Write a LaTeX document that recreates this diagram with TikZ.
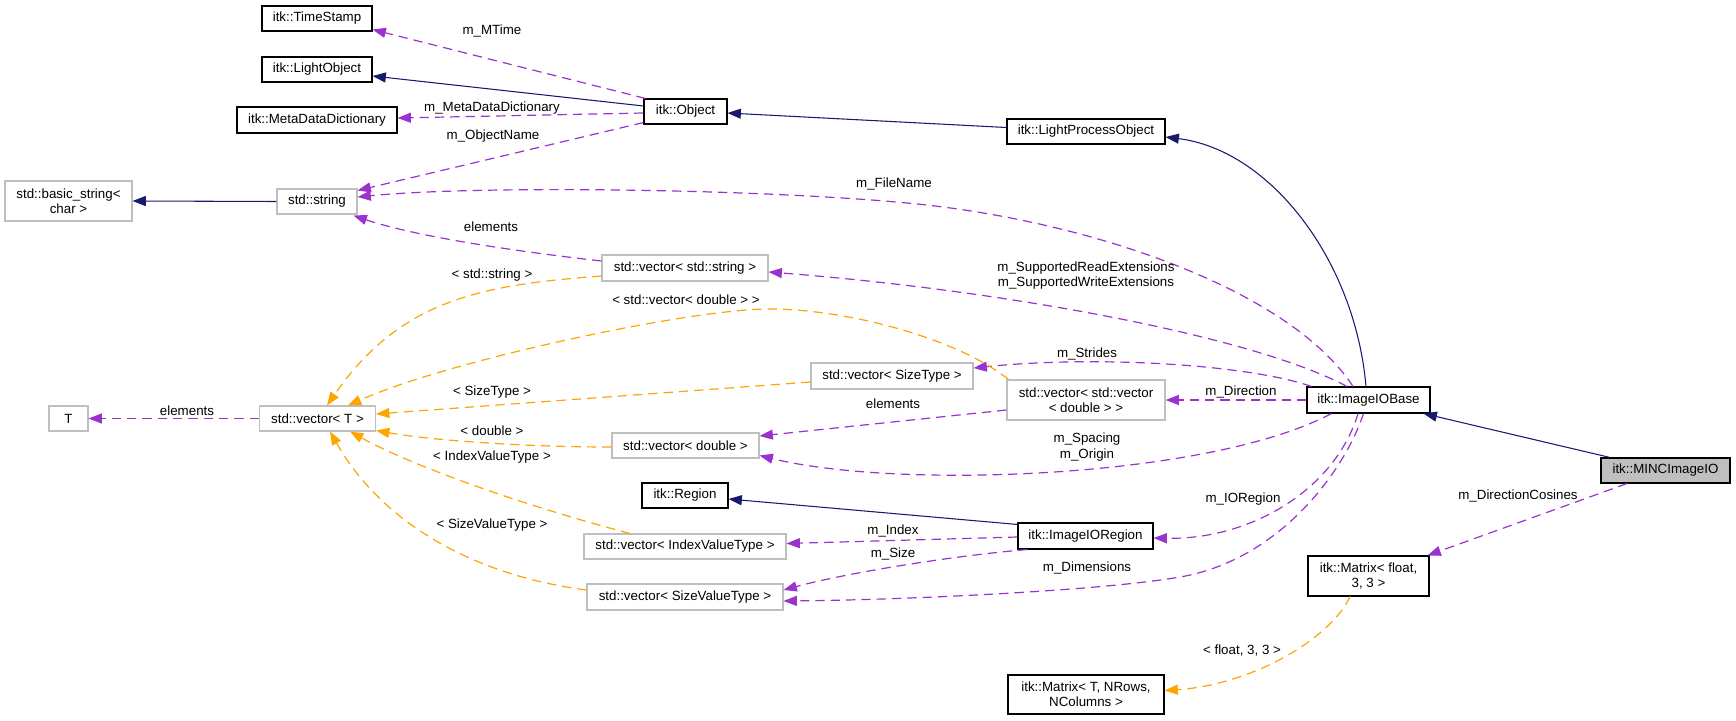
\documentclass[tikz,border=0pt]{standalone}
\usepackage{fontspec}
\setmainfont{Liberation Sans}
\usetikzlibrary{arrows.meta,calc}
\definecolor{navy}{HTML}{191970}
\definecolor{orch}{HTML}{9A32CD}
\definecolor{orng}{HTML}{FFA500}
\definecolor{gbord}{HTML}{BFBFBF}
\definecolor{mincfill}{HTML}{BFBFBF}
\begin{document}
\begin{tikzpicture}[x=0.75pt,y=-0.75pt,
  every node/.style={font=\fontsize{10}{11.5}\selectfont, inner sep=0pt, align=center},
  cbox/.style 2 args={draw=black, line width=0.8pt, minimum width=#1*0.75pt, minimum height=#2*0.75pt},
  gbox/.style 2 args={draw=gbord, line width=0.8pt, minimum width=#1*0.75pt, minimum height=#2*0.75pt},
  inh/.style={color=navy, line width=0.8pt, -{Triangle[length=10pt,width=7.5pt]}},
  use/.style={color=orch, line width=0.9pt, dash pattern=on 7pt off 4.5pt, -{Triangle[length=10pt,width=7.5pt]}},
  tpl/.style={color=orng, line width=0.9pt, dash pattern=on 7pt off 4.5pt, -{Triangle[length=10pt,width=7.5pt]}},
  lbl/.style={text=black}
]
\useasboundingbox (0,0) rectangle (1736,721);

% nodes
\node[cbox={110}{25}] (ts) at (317,18.5) {itk::TimeStamp};
\node[cbox={110}{25}] (lo) at (317,69.5) {itk::LightObject};
\node[cbox={160}{26}] (mdd) at (317,120) {itk::MetaDataDictionary};
\node[cbox={83}{25}] (obj) at (685.5,111.5) {itk::Object};
\node[cbox={158}{25}] (lpo) at (1086,131.5) {itk::LightProcessObject};
\node[gbox={127}{40}] (bs) at (68.5,201) {std::basic\_string\textless\\char \textgreater};
\node[gbox={80}{25}] (str) at (317,201.5) {std::string};
\node[gbox={166}{26}] (vstr) at (685,268) {std::vector\textless{} std::string \textgreater};
\node[gbox={162}{26}] (vst) at (892,376) {std::vector\textless{} SizeType \textgreater};
\node[gbox={158}{40}] (vvd) at (1086,400) {std::vector\textless{} std::vector\\\textless{} double \textgreater{} \textgreater};
\node[cbox={123}{26}] (iob) at (1368.5,400) {itk::ImageIOBase};
\node[gbox={39}{25}] (T) at (68.5,418.5) {T};
\node[gbox={116}{25}] (vT) at (317.5,418.5) {std::vector\textless{} T \textgreater};
\node[gbox={147}{25}] (vd) at (685.5,445.5) {std::vector\textless{} double \textgreater};
\node[cbox={86}{25}] (reg) at (685,495.5) {itk::Region};
\node[cbox={135}{26}] (ioreg) at (1085.5,536) {itk::ImageIORegion};
\node[gbox={202}{25}] (vivt) at (685,546.5) {std::vector\textless{} IndexValueType \textgreater};
\node[gbox={196}{26}] (vsvt) at (685,597) {std::vector\textless{} SizeValueType \textgreater};
\node[cbox={129}{25}, fill=mincfill] (minc) at (1665.5,470.5) {itk::MINCImageIO};
\node[cbox={121}{40}] (mf) at (1368.5,576) {itk::Matrix\textless{} float,\\3, 3 \textgreater};
\node[cbox={156}{39}] (mT) at (1086,694.5) {itk::Matrix\textless{} T, NRows,\\NColumns \textgreater};

% inheritance
\draw[inh] ($(obj.west)+(0,-5.5)$) -- ($(lo.east)+(0,6.5)$);
\draw[inh] ($(lpo.west)+(0,-4)$) -- ($(obj.east)+(0,1.5)$);
\draw[inh] ($(iob.north)+(-2.5,0)$) .. controls (1355,260) and (1270,150) .. ($(lpo.east)+(0,5.5)$);
\draw[inh] ($(minc.north)+(-55.5,0)$) -- ($(iob.south east)+(-7,0)$);
\draw[inh] (str.west) -- (bs.east);
\draw[inh] ($(ioreg.north west)+(0,2)$) -- ($(reg.east)+(0,3.5)$);

% usage
\draw[use] ($(obj.north west)+(2,0)$) -- ($(ts.south east)+(0,-2)$);
\draw[use] ($(obj.west)+(0,1.5)$) -- ($(mdd.east)+(0,-2)$);
\draw[use] ($(obj.south west)+(0,-2)$) -- ($(str.east)+(0,-11)$);
\draw[use] ($(iob.north)+(-15.5,0)$) .. controls (1290,290) and (1090,220) .. (907,203) .. controls (760,189) and (480,185) .. ($(str.east)+(0,-4.5)$);
\draw[use] ($(vstr.west)+(0,-7)$) .. controls (530,253) and (420,238) .. ($(str.south east)+(-4,1)$);
\draw[use] ($(iob.north)+(-21.5,0)$) .. controls (1250,335) and (1000,290) .. ($(vstr.east)+(0,4)$);
\draw[use] ($(iob.north west)+(5,0)$) .. controls (1250,365) and (1100,355) .. ($(vst.east)+(0,-8)$);
\draw[use] (iob.west) -- (vvd.east);
\draw[use] ($(vvd.west)+(0,10)$) -- ($(vd.east)+(0,-9.5)$);
\draw[use] ($(iob.south west)+(25,0)$) .. controls (1210,478) and (900,490) .. ($(vd.east)+(0,10)$);
\draw[use] ($(iob.south)+(-10.5,0)$) .. controls (1335,490) and (1250,540) .. ($(ioreg.east)+(0,2)$);
\draw[use] ($(iob.south)+(-5,0)$) .. controls (1345,470) and (1280,560) .. (1180,577) .. controls (1100,591) and (900,600) .. ($(vsvt.east)+(0,4)$);
\draw[use] ($(ioreg.west)+(0,1)$) -- ($(vivt.east)+(0,-3)$);
\draw[use] ($(ioreg.south west)+(10,0)$) .. controls (960,555) and (850,572) .. ($(vsvt.east)+(0,-7)$);
\draw[use] ($(minc.south)+(-38.5,0)$) -- ($(mf.north east)+(-2,0)$);
\draw[use] (vT.west) -- (T.east);

% template instantiation
\draw[tpl] ($(vstr.west)+(0,8)$) .. controls (480,285) and (400,300) .. ($(vT.north)+(9.5,0)$);
\draw[tpl] ($(vvd.north west)+(2,0)$) .. controls (960,340) and (850,309) .. (769,309) .. controls (690,309) and (450,360) .. ($(vT.north)+(30.5,0)$);
\draw[tpl] ($(vst.west)+(0,6)$) -- ($(vT.east)+(0,-4.5)$);
\draw[tpl] ($(vd.west)+(0,1.5)$) .. controls (520,447) and (430,440) .. ($(vT.south east)+(0,-1)$);
\draw[tpl] ($(vivt.north)+(-55,0)$) .. controls (540,510) and (420,470) .. ($(vT.south)+(32.5,0)$);
\draw[tpl] ($(vsvt.west)+(0,-7)$) .. controls (470,575) and (380,520) .. ($(vT.south)+(12.5,0)$);
\draw[tpl] ($(mf.south)+(-18.5,0)$) .. controls (1330,640) and (1250,685) .. ($(mT.east)+(0,-4)$);

% labels
\node[lbl] (l1) at (492,31) {m\_MTime};
\node[lbl] (l2) at (492,108) {m\_MetaDataDictionary};
\node[lbl] (l3) at (493,136) {m\_ObjectName};
\node[lbl] (l4) at (491,227) {elements};
\node[lbl] (l5) at (894,184) {m\_FileName};
\node[lbl] (l6) at (1086,275.5) {m\_SupportedReadExtensions\\m\_SupportedWriteExtensions};
\node[lbl] (l7) at (1087,354) {m\_Strides};
\node[lbl] (l8) at (1241,392) {m\_Direction};
\node[lbl] (l9) at (893,404) {elements};
\node[lbl] (l10) at (1087,447) {m\_Spacing\\m\_Origin};
\node[lbl] (l11) at (1243,499) {m\_IORegion};
\node[lbl] (l12) at (1087,568) {m\_Dimensions};
\node[lbl] (l13) at (893,531) {m\_Index};
\node[lbl] (l14) at (893,554) {m\_Size};
\node[lbl] (l15) at (1518,496) {m\_DirectionCosines};
\node[lbl] (l16) at (187,411) {elements};
\node[lbl] (l17) at (492,275) {\textless{} std::string \textgreater};
\node[lbl] (l18) at (686,300) {\textless{} std::vector\textless{} double \textgreater{} \textgreater};
\node[lbl] (l19) at (492,392) {\textless{} SizeType \textgreater};
\node[lbl] (l20) at (492,431) {\textless{} double \textgreater};
\node[lbl] (l21) at (492,457) {\textless{} IndexValueType \textgreater};
\node[lbl] (l22) at (492,525) {\textless{} SizeValueType \textgreater};
\node[lbl] (l23) at (1242,651) {\textless{} float, 3, 3 \textgreater};
\end{tikzpicture}
\end{document}
